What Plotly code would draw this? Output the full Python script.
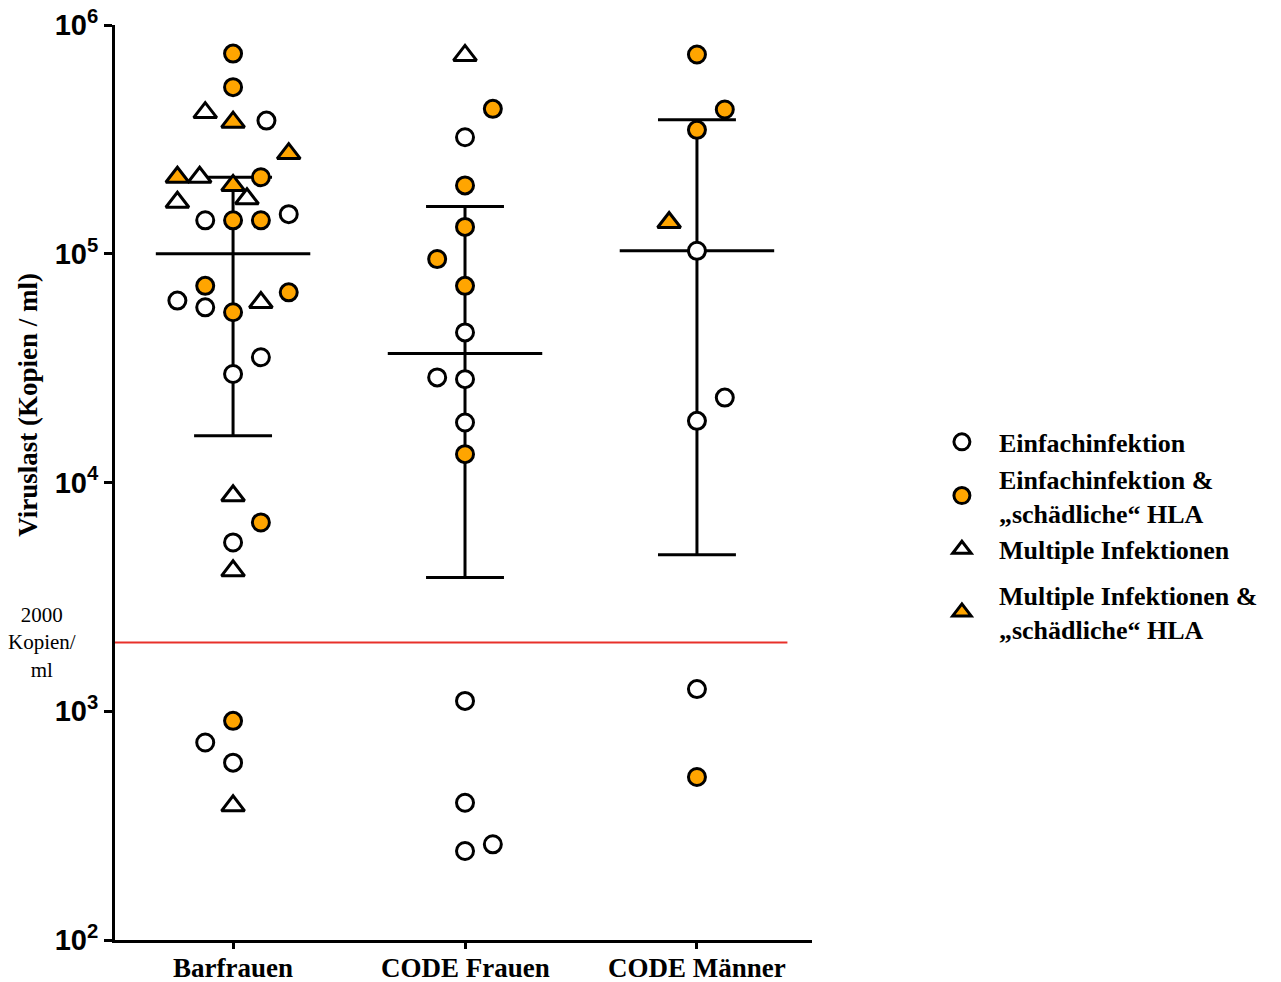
import plotly.graph_objects as go

# Groups on the x axis
groups = ["Barfrauen", "CODE Frauen", "CODE Männer"]

# Viral load per subject (copies/ml), infection type and horizontal jitter slot
# Types: "E" single infection, "EH" single + harmful HLA,
#        "M" multiple infections, "MH" multiple + harmful HLA
barfrauen_values = [750000, 535000, 414000, 376000, 382000, 274000, 216000, 216000,
                    216000, 199000, 168000, 174000, 140000, 140000, 140000, 149000,
                    72400, 62400, 58300, 55500, 61200, 67800, 29800, 35300,
                    8750, 6690, 5470, 4110, 908, 730, 596, 386]
barfrauen_types = ["EH", "EH", "M", "MH", "E", "MH", "MH", "M",
                   "EH", "MH", "M", "M", "E", "EH", "EH", "E",
                   "EH", "E", "E", "EH", "M", "EH", "E", "E",
                   "M", "EH", "E", "M", "EH", "E", "E", "M"]
barfrauen_slots = [0, 0, -1, 0, 1.2, 2, -2, -1.2,
                   1, 0, -2, 0.5, -1, 0, 1, 2,
                   -1, -2, -1, 0, 1, 2, 0, 1,
                   0, 1, 0, 0, 0, -1, 0, 0]

code_frauen_values = [736000, 430000, 323000, 199000, 131000, 94800, 72400, 45300,
                      28800, 28300, 18300, 13300, 1110, 398, 245, 262]
code_frauen_types = ["M", "EH", "E", "EH", "EH", "EH", "EH", "E",
                     "E", "E", "E", "EH", "E", "E", "E", "E"]
code_frauen_slots = [0, 1, 0, 0, 0, -1, 0, 0,
                     -1, 0, 0, 0, 0, 0, 0, 1]

code_maenner_values = [743000, 427000, 348000, 137000, 103000, 23500, 18600, 1250, 516]
code_maenner_types = ["EH", "EH", "EH", "MH", "E", "E", "E", "E", "EH"]
code_maenner_slots = [0, 1, 0, -1, 0, 1, 0, 0, 0]

# Central line with lower / upper whiskers per group
centre_values = [100000, 36600, 103000]
upper_values = [216000, 161000, 385000]
lower_values = [16000, 3840, 4830]

threshold = 2000

legend_names = {
    "E": "Einfachinfektion",
    "EH": "Einfachinfektion &<br>„schädliche“ HLA",
    "M": "Multiple Infektionen",
    "MH": "Multiple Infektionen &<br>„schädliche“ HLA",
}
legend_groups = {"E": "a", "EH": "a", "M": "a", "MH": "b"}

ORANGE = "#FFA500"
SLOT = 0.12
MEAN_HALF = 0.333
CAP_HALF = 0.168

styles = {
    "E": dict(symbol="circle", color="white", size=17),
    "EH": dict(symbol="circle", color=ORANGE, size=17),
    "M": dict(symbol="triangle-up", color="white", size=20),
    "MH": dict(symbol="triangle-up", color=ORANGE, size=20),
}

fig = go.Figure()

# Threshold line at 2000 copies/ml
fig.add_trace(go.Scatter(
    x=[-0.51, 2.39], y=[threshold, threshold], mode="lines",
    line=dict(color="#E8302A", width=2), showlegend=False, hoverinfo="skip",
    cliponaxis=False))

# Centre line, whiskers and caps
lx, ly = [], []
for i, (c, lo, hi) in enumerate(zip(centre_values, lower_values, upper_values)):
    lx += [i - MEAN_HALF, i + MEAN_HALF, None]
    ly += [c, c, None]
    lx += [i, i, None]
    ly += [lo, hi, None]
    lx += [i - CAP_HALF, i + CAP_HALF, None]
    ly += [hi, hi, None]
    lx += [i - CAP_HALF, i + CAP_HALF, None]
    ly += [lo, lo, None]
fig.add_trace(go.Scatter(x=lx, y=ly, mode="lines",
                         line=dict(color="black", width=3),
                         showlegend=False, hoverinfo="skip"))

all_groups = [
    (barfrauen_values, barfrauen_types, barfrauen_slots),
    (code_frauen_values, code_frauen_types, code_frauen_slots),
    (code_maenner_values, code_maenner_types, code_maenner_slots),
]

for t in ["E", "EH", "M", "MH"]:
    xs, ys = [], []
    for gi, (vals, types, slots) in enumerate(all_groups):
        for v, ty, s in zip(vals, types, slots):
            if ty == t:
                xs.append(gi + s * SLOT)
                ys.append(v)
    st = styles[t]
    fig.add_trace(go.Scatter(
        x=xs, y=ys, mode="markers", name=legend_names[t],
        legendgroup=legend_groups[t],
        marker=dict(symbol=st["symbol"], size=st["size"], color=st["color"],
                    line=dict(color="black", width=3)),
        cliponaxis=False))

# Group names beneath the x axis
group_labels = [
    dict(text=g, xref="x", yref="paper", x=i, y=-0.0306,
         xanchor="center", yanchor="middle", showarrow=False,
         font=dict(family="Liberation Serif", size=27, color="black", weight="bold"))
    for i, g in enumerate(groups)
]

fig.update_layout(
    width=1281, height=982,
    margin=dict(l=115, r=469, t=25, b=42, autoexpand=False),
    plot_bgcolor="white", paper_bgcolor="white",
    showlegend=True,
    legend=dict(
        x=1.162, y=0.570, xanchor="left", yanchor="top",
        font=dict(family="Liberation Serif", size=26, color="black", weight="bold"),
        itemwidth=64, valign="middle", tracegroupgap=9, traceorder="grouped",
        bgcolor="rgba(0,0,0,0)",
    ),
    xaxis=dict(
        range=[-0.509, 2.496], tickvals=[0, 1, 2], showticklabels=False,
        showgrid=False, zeroline=False,
        showline=True, linecolor="black", linewidth=3,
        ticks="outside", ticklen=6, tickwidth=3, tickcolor="black",
    ),
    yaxis=dict(
        type="log", range=[2, 6],
        tickvals=[100, 1000, 10000, 100000, 1000000],
        ticktext=["10<sup>2</sup>", "10<sup>3</sup>", "10<sup>4</sup>",
                  "10<sup>5</sup>", "10<sup>6</sup>"],
        showgrid=False, zeroline=False,
        showline=True, linecolor="black", linewidth=3,
        ticks="outside", ticklen=8, tickwidth=3, tickcolor="black",
        tickfont=dict(family="Liberation Sans", size=29, color="black", weight="bold"),
    ),
    annotations=group_labels + [
        dict(text="Viruslast (Kopien / ml)", xref="paper", yref="paper",
             x=-0.1248, y=0.585, xanchor="center", yanchor="middle",
             textangle=-90, showarrow=False,
             font=dict(family="Liberation Serif", size=27, color="black", weight="bold")),
        dict(text="2000<br>Kopien/<br>ml", xref="paper", yref="paper",
             x=-0.1047, y=0.3246, xanchor="center", yanchor="middle",
             showarrow=False, align="center",
             font=dict(family="Liberation Serif", size=21, color="black")),
    ],
)

fig.write_html("out.html")
